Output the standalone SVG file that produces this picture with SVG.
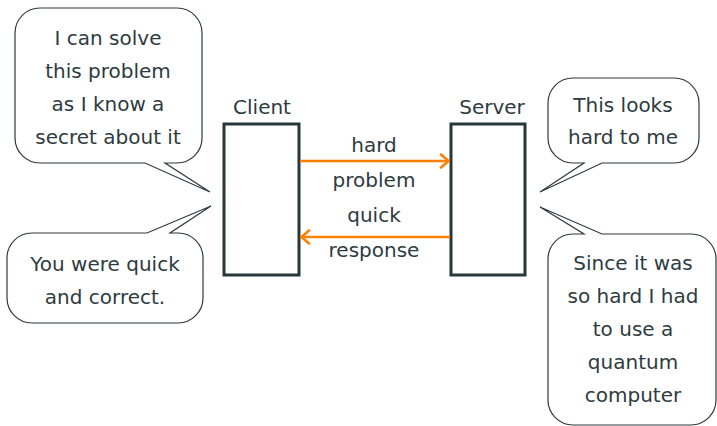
<svg xmlns="http://www.w3.org/2000/svg" width="717" height="426" viewBox="0 0 717 426">
  <defs>
    <style>
      text { font-family: "DejaVu Sans", "Liberation Sans", sans-serif; font-size: 20px; fill: #2e3b3f; text-anchor: middle; }
      .box { fill: #ffffff; stroke: #27383b; stroke-width: 3; }
      .bubble { fill: #ffffff; stroke: #2e3b3f; stroke-width: 1.2; stroke-linejoin: miter; }
      .arrow { fill: none; stroke: #ff8000; stroke-width: 2.6; }
    </style>
    <marker id="head" viewBox="0 0 12 16" refX="11" refY="8" markerWidth="12" markerHeight="16" markerUnits="userSpaceOnUse" orient="auto">
      <path d="M 3,1.5 L 10.5,8 L 3,14.5" fill="none" stroke="#ff8000" stroke-width="2.6" stroke-linecap="round" stroke-linejoin="round"/>
    </marker>
  </defs>
  <rect width="717" height="426" fill="#ffffff"/>

  <g id="client">
    <rect class="box" x="224" y="124" width="75" height="151"/>
    <text x="262" y="114">Client</text>
  </g>

  <g id="server">
    <rect class="box" x="451" y="124" width="74" height="151"/>
    <text x="492" y="114">Server</text>
  </g>

  <g id="connectors">
    <line class="arrow" x1="300" y1="161" x2="449" y2="161" marker-end="url(#head)"/>
    <line class="arrow" x1="450" y1="237" x2="301" y2="237" marker-end="url(#head)"/>
    <text x="374" y="152">hard</text>
    <text x="374" y="187">problem</text>
    <text x="374" y="222">quick</text>
    <text x="374" y="257">response</text>
  </g>

  <g id="bubble-client-thought">
    <path class="bubble" d="M 40,8 H 177 A 25 25 0 0 1 202,33 V 138 A 25 25 0 0 1 177,163 H 165 L 210,192 L 145,163 H 40 A 25 25 0 0 1 15,138 V 33 A 25 25 0 0 1 40,8 Z"/>
    <text x="108" y="45">I can solve</text>
    <text x="108" y="78">this problem</text>
    <text x="108" y="111">as I know a</text>
    <text x="108" y="144">secret about it</text>
  </g>

  <g id="bubble-client-reply">
    <path class="bubble" d="M 32,233 H 147 L 211,206 L 170,233 H 178 A 25 25 0 0 1 203,258 V 298 A 25 25 0 0 1 178,323 H 32 A 25 25 0 0 1 7,298 V 258 A 25 25 0 0 1 32,233 Z"/>
    <text x="105" y="271">You were quick</text>
    <text x="105" y="304">and correct.</text>
  </g>

  <g id="bubble-server-thought">
    <path class="bubble" d="M 573,78 H 674 A 25 25 0 0 1 699,103 V 138 A 25 25 0 0 1 674,163 H 602 L 540,192 L 584,163 H 573 A 25 25 0 0 1 548,138 V 103 A 25 25 0 0 1 573,78 Z"/>
    <text x="623" y="112">This looks</text>
    <text x="623" y="144">hard to me</text>
  </g>

  <g id="bubble-server-reply">
    <path class="bubble" d="M 573,234 H 584 L 540,207 L 602,234 H 691 A 25 25 0 0 1 716,259 V 400 A 25 25 0 0 1 691,425 H 573 A 25 25 0 0 1 548,400 V 259 A 25 25 0 0 1 573,234 Z"/>
    <text x="633" y="270">Since it was</text>
    <text x="633" y="303">so hard I had</text>
    <text x="633" y="336">to use a</text>
    <text x="633" y="369">quantum</text>
    <text x="633" y="402">computer</text>
  </g>
</svg>
